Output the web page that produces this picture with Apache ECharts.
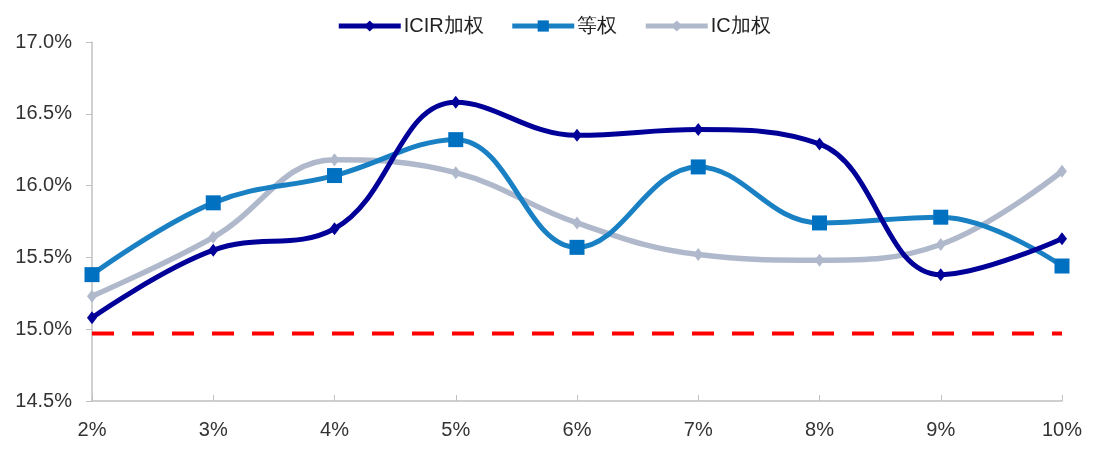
<!DOCTYPE html>
<html><head><meta charset="utf-8">
<script src="https://cdn.jsdelivr.net/npm/echarts@6/dist/echarts.min.js"></script>
<style>html,body{margin:0;padding:0;background:#fff}#c{width:1107px;height:453px}</style>
</head><body><div id="c"></div>
<script>
var categories = ['2%','3%','4%','5%','6%','7%','8%','9%','10%'];
var icirWeighted = [15.08,15.55,15.70,16.58,16.35,16.39,16.29,15.38,15.63];
var equalWeighted = [15.38,15.88,16.07,16.32,15.57,16.13,15.74,15.78,15.44];
var icWeighted = [15.23,15.64,16.18,16.09,15.74,15.52,15.48,15.59,16.10];
var baseline = [14.97,14.97,14.97,14.97,14.97,14.97,14.97,14.97,14.97];
var yTicks = [14.5,15.0,15.5,16.0,16.5,17.0];

var chart = echarts.init(document.getElementById('c'));
var font = 'Liberation Sans, Arial, sans-serif';
chart.setOption({
  animation:false,
  textStyle:{fontFamily:font},
  legend:{
    top:11, left:'center', itemWidth:62, itemHeight:14, itemGap:26,
    textStyle:{fontSize:20,color:'#222',fontFamily:font,padding:[0,0,0,-2]},
    lineStyle:{width:5},
    data:['ICIR加权','等权','IC加权']
  },
  grid:{left:92,right:45,top:42,bottom:52,containLabel:false},
  xAxis:{
    type:'category', data:categories, boundaryGap:false,
    axisLine:{lineStyle:{color:'#c0c0c0',width:1.5}},
    axisTick:{inside:true,length:6,lineStyle:{color:'#c0c0c0'}},
    axisLabel:{fontSize:20,color:'#333',margin:19,fontFamily:font},
    splitLine:{show:false}
  },
  yAxis:{
    type:'value', min:yTicks[0], max:yTicks[yTicks.length-1], interval:0.5,
    axisLine:{show:true,lineStyle:{color:'#c0c0c0',width:1.5}},
    axisTick:{show:true,length:6,lineStyle:{color:'#c0c0c0'}},
    axisLabel:{fontSize:20,color:'#333',margin:20,fontFamily:font,padding:[5,0,0,0],
      formatter:function(v){return v.toFixed(1)+'%';}},
    splitLine:{show:false}
  },
  series:[
    {name:'基准',type:'line',data:baseline,symbol:'none',silent:true,z:1,
      lineStyle:{color:'#ff0000',width:4,type:[22,18]}},
    {name:'IC加权',type:'line',data:icWeighted,smooth:0.4,symbol:'diamond',symbolSize:[10,13],
      itemStyle:{color:'#b0b9cc'},lineStyle:{color:'#b0b9cc',width:5.5},z:2},
    {name:'等权',type:'line',data:equalWeighted,smooth:0.4,symbol:'rect',symbolSize:15,
      itemStyle:{color:'#0070c0'},lineStyle:{color:'#1a80c4',width:5},z:3},
    {name:'ICIR加权',type:'line',data:icirWeighted,smooth:0.4,symbol:'diamond',symbolSize:[10,13],
      itemStyle:{color:'#000099'},lineStyle:{color:'#000099',width:5},z:4}
  ]
});
</script></body></html>
